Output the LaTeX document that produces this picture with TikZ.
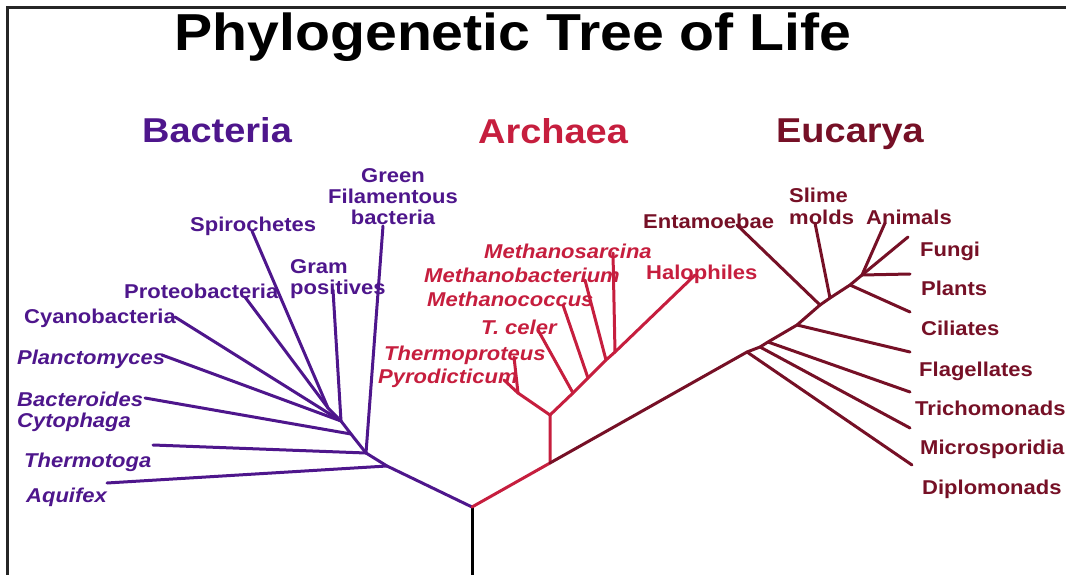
\documentclass[tikz,border=0pt]{standalone}
\usepackage{fontspec}
\setmainfont{Liberation Sans}[FakeStretch=1.1]
\definecolor{bac}{RGB}{78,22,140}
\definecolor{arc}{RGB}{198,30,62}
\definecolor{euc}{RGB}{118,16,38}
\tikzset{
  leaf/.style={inner sep=0pt, font=\fontsize{20}{21}\selectfont\bfseries},
  ileaf/.style={inner sep=0pt, font=\fontsize{20}{21}\selectfont\bfseries\itshape},
  grp/.style={inner sep=0pt, anchor=base, font=\fontsize{34.5}{36}\selectfont\bfseries},
  br/.style={line width=3pt, line cap=round, line join=round},
}
\begin{document}
\begin{tikzpicture}[x=1pt,y=-1pt]
\useasboundingbox (0,0) rectangle (1066,575);
% frame
\draw[line width=3pt, black!85] (7,575) -- (7,8) -- (1066,8);
% title and groups
\node[inner sep=0pt, anchor=base, font=\fontsize{52}{54}\selectfont\bfseries] (title) at (513,51) {Phylogenetic Tree of Life};
\node[grp, text=bac] (gbac) at (217,143) {Bacteria};
\node[grp, text=arc] (garc) at (553,144) {Archaea};
\node[grp, text=euc] (geuc) at (850,143) {Eucarya};

% ---------- coordinates ----------
\coordinate (R) at (472,507);
\coordinate (Rb) at (472,575);
% bacteria
\coordinate (bA) at (387,466);
\coordinate (aqE) at (107,483);
\coordinate (b1) at (366,453);
\coordinate (thE) at (153,445);
\coordinate (grE) at (383,226);
\coordinate (b2) at (351,434);
\coordinate (bcE) at (145,398);
\coordinate (b3) at (341,421);
\coordinate (gpE) at (333,290);
\coordinate (plE) at (162,355);
\coordinate (cyE) at (175,317);
\coordinate (b4) at (328,408);
\coordinate (prE) at (245,297);
\coordinate (spE) at (252,231);
% archaea
\coordinate (a0) at (550,463);
\coordinate (a1) at (550,415);
\coordinate (a2) at (518,393);
\coordinate (tpE) at (514,357);
\coordinate (pyE) at (504,380);
\coordinate (tcJ) at (573,393);
\coordinate (tcE) at (538,330);
\coordinate (mcJ) at (588,378);
\coordinate (mcE) at (563,305);
\coordinate (mbJ) at (606,360);
\coordinate (mbE) at (585,280);
\coordinate (msJ) at (615,352);
\coordinate (msE) at (613,253);
\coordinate (haE) at (695,275);
% eucarya
\coordinate (e0) at (747,352);
\coordinate (e1) at (760,347);
\coordinate (e2) at (768,342);
\coordinate (e3) at (797,325);
\coordinate (e4) at (820,305);
\coordinate (e5) at (830,298);
\coordinate (e6) at (850,285);
\coordinate (e7) at (862,275);
\coordinate (dpE) at (912,465);
\coordinate (miE) at (910,428);
\coordinate (trE) at (910,392);
\coordinate (flE) at (910,352);
\coordinate (enE) at (737,225);
\coordinate (slE) at (815,223);
\coordinate (ciE) at (910,312);
\coordinate (plaE) at (910,274);
\coordinate (fuE) at (908,237);
\coordinate (anE) at (885,223);

% ---------- branches ----------
\draw[br, black] (Rb) -- (R);
\begin{scope}[br, bac]
\draw (R) -- (bA) -- (b1) -- (b2) -- (b3) -- (b4);
\draw (bA) -- (aqE);
\draw (b1) -- (thE);
\draw (b1) -- (grE);
\draw (b2) -- (bcE);
\draw (b3) -- (gpE);
\draw (b3) -- (plE);
\draw (b3) -- (cyE);
\draw (b4) -- (prE);
\draw (b4) -- (spE);
\end{scope}
\begin{scope}[br, arc]
\draw (R) -- (a0) -- (a1);
\draw (a1) -- (a2);
\draw (a2) -- (tpE);
\draw (a2) -- (pyE);
\draw (a1) -- (tcJ) -- (mcJ) -- (mbJ) -- (msJ) -- (haE);
\draw (tcJ) -- (tcE);
\draw (mcJ) -- (mcE);
\draw (mbJ) -- (mbE);
\draw (msJ) -- (msE);
\end{scope}
\begin{scope}[br, euc]
\draw (a0) -- (e0) -- (e1) -- (e2) -- (e3) -- (e4) -- (e5) -- (e6) -- (e7);
\draw (e0) -- (dpE);
\draw (e1) -- (miE);
\draw (e2) -- (trE);
\draw (e3) -- (flE);
\draw (e4) -- (enE);
\draw (e5) -- (slE);
\draw (e6) -- (ciE);
\draw (e7) -- (plaE);
\draw (e7) -- (fuE);
\draw (e7) -- (anE);
\end{scope}

% ---------- labels ----------
\begin{scope}[text=bac]
\node[leaf, anchor=base, align=center] (lgr) at (393,224) {Green\\Filamentous\\bacteria};
\node[leaf, anchor=base west] (lsp) at (190,231) {Spirochetes};
\node[leaf, anchor=base west, align=left] (lgp) at (290,294) {Gram\\positives};
\node[leaf, anchor=base west] (lpr) at (124,298) {Proteobacteria};
\node[leaf, anchor=base west] (lcy) at (24,323) {Cyanobacteria};
\node[ileaf, anchor=base west] (lpl) at (17,364) {Planctomyces};
\node[ileaf, anchor=base west, align=left] (lbc) at (17,427) {Bacteroides\\Cytophaga};
\node[ileaf, anchor=base west] (lth) at (24,467) {Thermotoga};
\node[ileaf, anchor=base west] (laq) at (26,502) {Aquifex};
\end{scope}
\begin{scope}[text=arc]
\node[ileaf, anchor=base west] (lms) at (484,258) {Methanosarcina};
\node[ileaf, anchor=base west] (lmb) at (424,282) {Methanobacterium};
\node[ileaf, anchor=base west] (lmc) at (427,306) {Methanococcus};
\node[ileaf, anchor=base west] (ltc) at (481,334) {T. celer};
\node[ileaf, anchor=base west] (ltp) at (384,360) {Thermoproteus};
\node[ileaf, anchor=base west] (lpy) at (378,383) {Pyrodicticum};
\node[leaf, anchor=base west] (lha) at (646,279) {Halophiles};
\end{scope}
\begin{scope}[text=euc]
\node[leaf, anchor=base west] (len) at (643,228) {Entamoebae};
\node[leaf, anchor=base west, align=left] (lsl) at (789,224) {Slime\\molds};
\node[leaf, anchor=base west] (lan) at (866,224) {Animals};
\node[leaf, anchor=base west] (lfu) at (920,256) {Fungi};
\node[leaf, anchor=base west] (lpla) at (921,295) {Plants};
\node[leaf, anchor=base west] (lci) at (921,335) {Ciliates};
\node[leaf, anchor=base west] (lfl) at (919,376) {Flagellates};
\node[leaf, anchor=base west] (ltr) at (915,415) {Trichomonads};
\node[leaf, anchor=base west] (lmi) at (920,454) {Microsporidia};
\node[leaf, anchor=base west] (ldp) at (922,494) {Diplomonads};
\end{scope}
\end{tikzpicture}
\end{document}
